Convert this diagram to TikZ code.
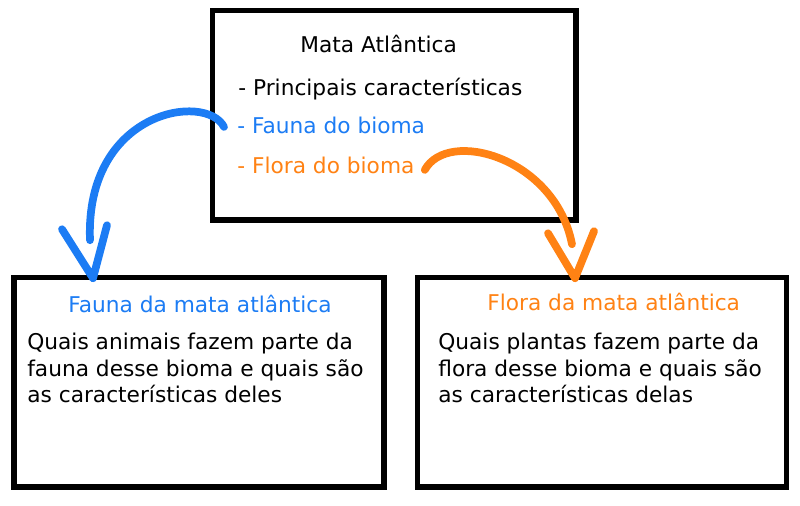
\documentclass[tikz,border=0pt]{standalone}
\usepackage{fontspec}
\setmainfont{DejaVu Sans}
\usetikzlibrary{positioning}
\definecolor{faunaColor}{RGB}{28,124,244}
\definecolor{floraColor}{RGB}{255,130,20}
\tikzstyle{canvas} = [x = 0.02cm, y = -0.02cm]
\tikzstyle{topicBox} = [draw, line width=3.2pt, inner sep=0pt, minimum height=4.19cm]
\tikzstyle{itemText} = [anchor=base west, inner sep=0pt, font=\fontsize{12.35}{15}\selectfont]
\tikzstyle{bodyText} = [anchor=north west, inner sep=0pt, align=left, font=\fontsize{12.35}{15}\selectfont]
\tikzstyle{brushStroke} = [line width=4.4pt, line cap=round, line join=round]
\begin{document}
\begin{tikzpicture}[canvas]
\useasboundingbox (0,0) rectangle (800,505);
% boxes
\node[topicBox, minimum width=7.27cm] (mainBox) at (394.25,115.25) {};
\node[topicBox, minimum width=7.40cm] (faunaBox) at (199,382.25) {};
\node[topicBox, minimum width=7.38cm] (floraBox) at (602,382.25) {};
% top box text
\node[itemText] (title) at (300,52) {Mata Atlântica};
\node[itemText] (principais) at (238,95) {- Principais características};
\node[itemText, text=faunaColor] (faunaItem) at (237,133) {- Fauna do bioma};
\node[itemText, text=floraColor] (floraItem) at (237,173) {- Flora do bioma};
% lower boxes text
\node[itemText, text=faunaColor] (faunaTitle) at (68,312) {Fauna da mata atlântica};
\node[bodyText] (faunaBody) at (27,333) {Quais animais fazem parte da\\fauna desse bioma e quais são\\as características deles};
\node[itemText, text=floraColor] (floraTitle) at (487,310) {Flora da mata atlântica};
\node[bodyText] (floraBody) at (438,333) {Quais plantas fazem parte da\\flora desse bioma e quais são\\as características delas};
% brush arrows
\coordinate (faunaTip) at ([shift={(-106,3.5)}]faunaBox.north);
\coordinate (floraTip) at ([shift={(-27,3.5)}]floraBox.north);
\draw[brushStroke, faunaColor] ([shift={(-13,2)}]faunaItem.west) .. controls +(-18,-35) and +(-5,-130) .. ([shift={(-3,-38)}]faunaTip);
\draw[brushStroke, faunaColor] ([shift={(-31,-49)}]faunaTip) -- (faunaTip) -- ([shift={(14,-53)}]faunaTip);
\draw[brushStroke, floraColor] ([shift={(10,5)}]floraItem.east) .. controls +(23,-42) and +(-17,-87) .. ([shift={(-3,-34)}]floraTip);
\draw[brushStroke, floraColor] ([shift={(-27,-45)}]floraTip) -- (floraTip) -- ([shift={(19,-47)}]floraTip);
\end{tikzpicture}
\end{document}
